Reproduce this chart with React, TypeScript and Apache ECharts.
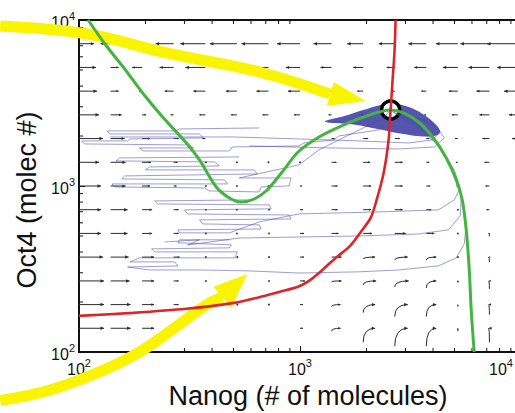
import React, { useEffect, useRef } from 'react';
import * as echarts from 'echarts';

// ---------- data ----------
const axisTickValues = [100, 1000, 10000];
const axisTickExponents = ['2', '3', '4'];
const minorTickValues = [200, 300, 400, 500, 600, 700, 800, 900, 2000, 3000, 4000, 5000, 6000, 7000, 8000, 9000];

// green nullcline (Nanog, Oct4)
const greenNanog = [110, 131, 161, 194, 239, 306, 351, 418, 479, 542, 621, 710, 830, 980, 1218, 1500, 1942, 2570, 2940, 3436, 4015, 4592, 5095, 5423, 5652, 5834, 5953, 6140];
const greenOct4 = [10000, 7168, 5070, 3632, 2604, 1815, 1435, 986, 847, 801, 835, 946, 1215, 1603, 1973, 2266, 2604, 2871, 2754, 2430, 1946, 1475, 1087, 824, 543, 312, 179, 100];

// red nullcline
const redNanog = [100, 175, 306, 494, 654, 804, 980, 1098, 1218, 1351, 1468, 1698, 1883, 2088, 2222, 2390, 2517, 2570, 2624, 2679, 2706];
const redOct4 = [165, 172, 182, 197, 214, 230, 247, 268, 299, 339, 373, 441, 528, 642, 824, 1197, 1893, 2871, 4352, 6600, 10000];

// stable fixed point
const fixedPoint = [2570, 2871];

// stochastic trajectories [Nanog, Oct4]
const traj1 = [[654, 2237], [285, 2206], [273, 2146], [134, 2146], [138, 2058], [351, 2058], [366, 1947], [170, 1921], [166, 1869], [103, 1869], [106, 1792], [316, 1767], [330, 1696], [188, 1696], [196, 1626], [479, 1626], [494, 1719], [990, 1743], [1042, 1817], [1422, 1895], [1500, 2002], [2270, 2176], [2517, 2500], [2570, 2871]];
const traj2 = [[531, 1496], [153, 1476], [147, 1416], [410, 1396], [432, 1321], [209, 1303], [200, 1250], [621, 1250], [640, 1182], [161, 1150], [156, 1103], [455, 1088], [469, 1029], [141, 1029], [145, 987], [370, 973], [389, 934], [654, 921], [667, 987], [892, 1001], [911, 1118], [531, 1118], [990, 1340], [1218, 1649], [1663, 2030], [2390, 2570], [2570, 2871]];
const traj3 = [[589, 825], [220, 813], [227, 780], [725, 769], [740, 728], [300, 718], [310, 679], [892, 669], [911, 633], [351, 625], [362, 591], [654, 583], [667, 551], [280, 544], [285, 522], [479, 522], [654, 608], [990, 679], [2270, 698], [4228, 718], [4991, 825], [5311, 973], [4991, 1250], [4315, 1696], [3581, 2237], [2793, 2716]];
const traj4 = [[479, 474], [285, 474], [280, 455], [489, 442], [479, 424], [213, 418], [220, 401], [520, 401], [509, 369], [188, 369], [170, 349], [271, 349], [280, 330], [166, 325], [209, 312], [351, 312], [589, 308], [990, 299], [1844, 304], [2793, 312], [4228, 330], [5095, 369], [5536, 448], [5652, 583], [5423, 825], [4939, 1216], [4228, 1767], [3263, 2331], [2650, 2792]];
const traj5 = [[138, 1974], [504, 1974], [990, 1921], [1844, 1869], [3101, 1817], [3972, 1895], [4274, 2116], [3733, 2466], [2793, 2754]];
const traj6 = [[589, 1743], [1351, 1696], [2793, 1672], [4055, 1719], [4497, 1947], [4141, 2300], [3101, 2679]];
const traj7 = [[244, 460], [351, 474], [310, 441], [531, 486], [990, 493], [1844, 500], [3436, 514], [4690, 544], [5311, 660], [5370, 883], [4790, 1338], [4055, 1895], [3162, 2500], [2624, 2792]];

// dense cloud around the fixed point
const blobNanog = [1300, 1600, 1950, 2300, 2650, 3101, 3620, 4050, 4300, 4200, 3620, 2793, 2270, 1750];
const blobOct4 = [2440, 2650, 2880, 3070, 3130, 2992, 2700, 2400, 2150, 2030, 1990, 2080, 2200, 2350];

// flow field grid (streamslice) and components (+u: Nanog grows, +v: Oct4 grows)
const flowNanog = [100, 139, 193, 268, 373, 518, 720, 1000, 1389, 1931, 2683, 3728, 5179, 7197, 10000];
const flowOct4 = [7197, 5179, 3728, 2683, 1931, 1389, 1000, 720, 518, 373, 268, 193, 139];
const flowU = [
  [15, -10, -20, -18, -25, -27, -27, -23, -18, -16, -16, -18, -22, -29, -34],
  [17, 8, -10, -14, -20, -19, -15, -14, -11, -10, -8, -12, -15, -21, -24],
  [18, 8, -3, -9, -12, -11, -12, -12, -7, -6, -2, -5, -9, -13, -17],
  [20, 11, 4, -3, -6, -6, -6, -6, -3, -2, -1, -2, -6, -10, -12],
  [24, 14, 8, 5, -3, -1, -1, -1, 3, 5, 5, 3, -3, -7, -9],
  [20, 15, 9, 4, 1, 0, 0, 0, 5, 7, 8, 3, -2, -5, -6],
  [22, 15, 8, 3, 1, 0, 0, 2, 6, 8, 8, 4, -1, -4, -5],
  [22, 17, 10, 5, 1, 0, 1, 3, 6, 8, 8, 5, 0, -3, -4],
  [22, 17, 10, 5, 1, 0, 1, 4, 7, 9, 11, 8, 0, -1, -2],
  [24, 18, 12, 6, 1, 1, 1, 4, 10, 12, 13, 10, 0, -1, -1],
  [25, 19, 12, 5, 1, 1, 1, 5, 10, 13, 14, 10, 0, -1, -1],
  [25, 20, 12, 5, 1, 1, 1, 3, 9, 12, 13, 10, 0, -1, -1],
  [25, 20, 12, 4, 1, 1, 1, 3, 9, 12, 13, 10, 0, -1, -1],
];
const flowV = [
  [0, 0, 0, 0, 0, 0, 0, 0, 0, 0, 0, 0, 0, 0, 0],
  [0, 0, 0, 0, 0, 0, 0, 0, 0, 0, 0, 0, 0, 0, 0],
  [0, 0, 0, 0, 0, 0, 0, 0, 0, 0, 0, 0, 0, 0, 0],
  [0, 0, 0, 0, 0, 0, 0, 0, 0, 0, 0, 0, 0, 0, 0],
  [0, 0, 0, 0, 0, 0, 0, 0, 0, 0, 0, 0, 0, 0, 0],
  [0, 0, 0, 0, 0, 0, 0, 0, 0, 0, 0, 0, 0, 0, 0],
  [0, 0, 0, 0, 0, 0, 0, 0, 0, 0, 0, 0, 0, 0, 0],
  [0, 0, 0, 0, 0, 0, 0, 0, 0, 0, 0, 0, 0, 0, 0],
  [0, 0, 0, 0, 0, 0, 0, 0, 0, 0, 0, 0, 0, 3, 3],
  [0, 0, 0, 0, 0, 0, 0, 0, 0, 2, 3, 3, 0, 5, 5],
  [0, 0, 0, 0, 0, 0, 0, 0, 1, 4, 6, 7, 1, 8, 8],
  [0, 0, 0, 0, 0, 0, 0, 0, 2, 8, 12, 12, 2, 10, 10],
  [0, 0, 0, 0, 0, 0, 0, 0, 3, 14, 18, 18, 3, 14, 14],
];

// yellow annotation arrows (in data units)
const yellowTopNanog = [44, 109, 249, 654, 1365];
const yellowTopOct4 = [9201, 8235, 6329, 4863, 3583];
const yellowTopHead = [[1422, 4233], [1984, 3251], [1323, 3034]];
const yellowBottomNanog = [44, 74, 124, 188, 271, 370, 445];
const yellowBottomOct4 = [51, 59, 76, 100, 140, 189, 214];
const yellowBottomHead = [[406, 247], [577, 295], [489, 184]];

// ---------- helpers ----------
const FONT = '"Liberation Sans", Arial, Helvetica, sans-serif';
const zip = (a: number[], b: number[]) => a.map((v, i) => [v, b[i]]);

function renderFlow(_params: any, api: any) {
  const nx = api.value(0);
  const oy = api.value(1);
  const u = api.value(2);
  const v = api.value(3);
  const p = api.coord([nx, oy]);
  const len = Math.hypot(u, v);
  const color = '#2a2a2a';
  if (len < 2) {
    return { type: 'circle', shape: { cx: p[0] + u / 2, cy: p[1] + v / 2, r: 0.9 }, style: { fill: color } };
  }
  const end = [p[0] + u, p[1]];
  const children: any[] = [];
  let dir: number[];
  if (v === 0) {
    children.push({ type: 'line', shape: { x1: p[0], y1: p[1], x2: end[0], y2: end[1] }, style: { stroke: color, lineWidth: 1 } });
    dir = [Math.sign(u), 0];
  } else {
    children.push({
      type: 'bezierCurve',
      shape: { x1: p[0], y1: p[1] + v, cpx1: p[0], cpy1: p[1], x2: end[0], y2: end[1] },
      style: { stroke: color, lineWidth: 1, fill: null },
    });
    dir = Math.abs(u) < 0.5 ? [0, -1] : [Math.sign(u), 0];
  }
  const h = Math.min(3.5, 0.15 * len + 1);
  const w = h * 0.5;
  const bx = end[0] - dir[0] * h;
  const by = end[1] - dir[1] * h;
  children.push({
    type: 'polygon',
    shape: { points: [[end[0], end[1]], [bx - dir[1] * w, by + dir[0] * w], [bx + dir[1] * w, by - dir[0] * w]] },
    style: { fill: color },
  });
  return { type: 'group', children };
}

export default function App() {
  const ref = useRef<HTMLDivElement>(null);
  useEffect(() => {
    if (!ref.current) return;
    const chart = echarts.init(ref.current, null, { renderer: 'svg' });

    const flowData: number[][] = [];
    flowOct4.forEach((oy, r) => {
      flowNanog.forEach((nx, c) => {
        flowData.push([nx, oy, flowU[r][c], flowV[r][c]]);
      });
    });

    const trajectories = [traj1, traj2, traj3, traj4, traj5, traj6, traj7];

    const tickIndex = (val: number) => axisTickValues.findIndex((t) => Math.abs(t - val) < t * 1e-6);
    const yFormatter = (val: number) => {
      const i = tickIndex(val);
      return i < 0 ? '' : `{b|10}{s|${axisTickExponents[i]}}`;
    };
    const xFormatter = (val: number) => {
      const i = tickIndex(val);
      if (i < 0) return '';
      // last label sits at the window edge: keep it inside
      return i === axisTickValues.length - 1
        ? `{b|10}{e|${axisTickExponents[i]}}`
        : `{b|10}{s|${axisTickExponents[i]}}`;
    };
    const labelRich = {
      b: { fontSize: 16, fontFamily: FONT, color: '#111', lineHeight: 20, verticalAlign: 'bottom' },
      s: { fontSize: 11, fontFamily: FONT, color: '#111', lineHeight: 11, verticalAlign: 'top' },
      e: { fontSize: 11, fontFamily: FONT, color: '#111', lineHeight: 11, verticalAlign: 'top', padding: [0, 40, 0, 0] },
    };

    const option: any = {
      animation: false,
      backgroundColor: '#fff',
      grid: {
        left: 79, top: 20, width: 442, height: 332,
        outerBoundsMode: 'none', containLabel: false,
        show: true, borderColor: '#111', borderWidth: 2, backgroundColor: 'transparent',
      },
      xAxis: {
        type: 'log',
        logBase: 10,
        min: 100,
        max: 10000,
        name: 'Nanog (# of molecules)',
        nameLocation: 'middle',
        nameGap: 30,
        nameTextStyle: { fontSize: 27, fontFamily: FONT, color: '#111', padding: [0, 0, 0, 16] },
        axisLine: { show: true, lineStyle: { color: '#111', width: 2 } },
        axisTick: { show: true, inside: true, length: 6, lineStyle: { color: '#111' } },
        axisLabel: { margin: 5, formatter: xFormatter, rich: labelRich, showMaxLabel: true, showMinLabel: true },
        splitLine: { show: false },
      },
      yAxis: {
        type: 'log',
        logBase: 10,
        min: 100,
        max: 10000,
        name: 'Oct4 (molec #)',
        nameLocation: 'middle',
        nameGap: 36,
        nameTextStyle: { fontSize: 27, fontFamily: FONT, color: '#111', padding: [0, 28, 0, 0] },
        axisLine: { show: true, lineStyle: { color: '#111', width: 2 } },
        axisTick: { show: true, inside: true, length: 6, lineStyle: { color: '#111' } },
        axisLabel: { margin: 4, formatter: yFormatter, rich: labelRich },
        splitLine: { show: false },
      },
      series: [
        {
          name: 'flow',
          type: 'custom',
          clip: true,
          silent: true,
          renderItem: renderFlow,
          encode: { x: 0, y: 1 },
          data: flowData,
        },
        {
          name: 'minor ticks',
          type: 'custom',
          silent: true,
          encode: { x: 0, y: 1 },
          data: minorTickValues.map((v) => [v, v]),
          renderItem: (_p: any, api: any) => {
            const v = api.value(0);
            const top = api.coord([v, 10000]);
            const bot = api.coord([v, 100]);
            const left = api.coord([100, v]);
            const st = { stroke: '#111', lineWidth: 1 };
            return {
              type: 'group',
              children: [
                { type: 'line', shape: { x1: top[0], y1: top[1], x2: top[0], y2: top[1] + 4 }, style: st },
                { type: 'line', shape: { x1: bot[0], y1: bot[1], x2: bot[0], y2: bot[1] - 4 }, style: st },
                { type: 'line', shape: { x1: left[0], y1: left[1], x2: left[0] + 4, y2: left[1] }, style: st },
              ],
            };
          },
        },
        ...trajectories.map((t, i) => ({
          name: 'trajectory ' + (i + 1),
          type: 'line',
          data: t,
          showSymbol: false,
          silent: true,
          lineStyle: { width: 0.9, color: 'rgba(72,72,168,0.6)' },
        })),
        {
          name: 'cloud',
          type: 'custom',
          silent: true,
          encode: { x: 0, y: 1 },
          data: [fixedPoint],
          renderItem: (_p: any, api: any) => ({
            type: 'polygon',
            shape: { points: blobNanog.map((x, i) => api.coord([x, blobOct4[i]])), smooth: 0.4 },
            style: { fill: 'rgba(62,62,165,0.88)' },
          }),
        },
        {
          name: 'Oct4-Nanog nullcline (green)',
          type: 'line',
          data: zip(greenNanog, greenOct4),
          showSymbol: false,
          smooth: 0.3,
          silent: true,
          lineStyle: { width: 3, color: '#45b33f' },
        },
        {
          name: 'nullcline (red)',
          type: 'line',
          data: zip(redNanog, redOct4),
          showSymbol: false,
          smooth: 0.3,
          silent: true,
          lineStyle: { width: 2.6, color: '#d8262a' },
        },
        {
          name: 'fixed point',
          type: 'scatter',
          data: [fixedPoint],
          symbolSize: 18,
          silent: true,
          itemStyle: { color: '#fff', borderColor: '#000', borderWidth: 3.5, opacity: 1 },
        },
        {
          name: 'annotation arrows',
          type: 'custom',
          silent: true,
          clip: false,
          encode: { x: 0, y: 1 },
          data: [[1984, 3251, 0], [577, 295, 1]],
          renderItem: (_p: any, api: any) => {
            const idx = api.value(2);
            const nx = idx === 0 ? yellowTopNanog : yellowBottomNanog;
            const oy = idx === 0 ? yellowTopOct4 : yellowBottomOct4;
            const head = idx === 0 ? yellowTopHead : yellowBottomHead;
            const yellow = '#fbf400';
            return {
              type: 'group',
              children: [
                {
                  type: 'polyline',
                  shape: { points: nx.map((x, i) => api.coord([x, oy[i]])), smooth: 0.4 },
                  style: { stroke: yellow, lineWidth: 11, fill: null, lineCap: 'butt' },
                },
                {
                  type: 'polygon',
                  shape: { points: head.map((h) => api.coord(h)) },
                  style: { fill: yellow },
                },
              ],
            };
          },
        },
      ],
    };
    chart.setOption(option);
    return () => chart.dispose();
  }, []);
  return <div ref={ref} style={{ position: 'absolute', left: 0, top: 0, width: 515, height: 413 }} />;
}
